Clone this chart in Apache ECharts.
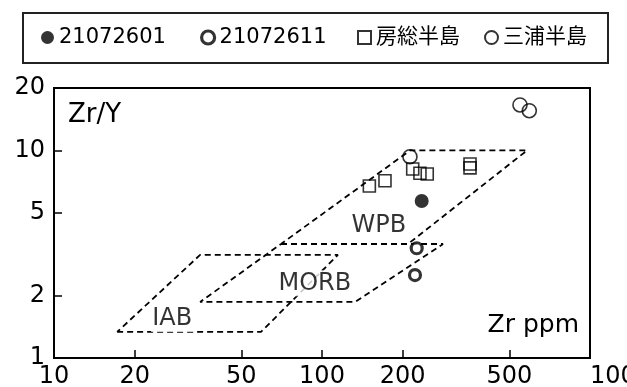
<!DOCTYPE html>
<html>
<head>
<meta charset="utf-8">
<script src="https://cdn.jsdelivr.net/npm/echarts@6/dist/echarts.min.js"></script>
<style>
html,body{margin:0;padding:0;background:#fff;}
#chart{width:627px;height:387px;}
</style>
</head>
<body>
<div id="chart"></div>
<script>
// Tick labels
const xTickValues = [10, 20, 50, 100, 200, 500, 1000];
const yTickValues = [1, 2, 5, 10, 20];

// Discrimination fields (Zr ppm, Zr/Y) - closed polygons
const iabZr    = [17.2, 59.2, 114.7, 35.1, 17.2];
const iabRatio = [1.335, 1.335, 3.14, 3.14, 1.335];
const morbZr    = [70.3, 282.8, 132.8, 35.1, 70.3];
const morbRatio = [3.543, 3.543, 1.862, 1.862, 3.543];
const wpbZr    = [70.3, 209.4, 582, 213, 70.3];
const wpbRatio = [3.543, 3.543, 10, 10, 3.543];

// Field labels
const fieldNames = ['WPB', 'MORB', 'IAB'];
const fieldZr    = [163, 94, 27.6];
const fieldRatio = [4.33, 2.29, 1.54];

// Samples
const s1Name = '21072601';
const s1Zr = [235.5];
const s1Ratio = [5.71];
const s2Name = '21072611';
const s2Zr = [225.6, 222.3];
const s2Ratio = [3.38, 2.51];
const bosoName = '房総半島';
const bosoZr = [150.2, 171.8, 218, 232, 247, 356.7, 356.7];
const bosoRatio = [6.74, 7.15, 8.14, 7.77, 7.70, 8.61, 8.24];
const miuraName = '三浦半島';
const miuraZr = [212.9, 548, 593.6];
const miuraRatio = [9.33, 16.57, 15.55];

const zip = (a, b) => a.map((v, i) => [v, b[i]]);
const FONT = 'DejaVu Sans, Noto Sans CJK JP, sans-serif';

const dashStyle = {color: '#000', width: 1.8, type: [6, 4]};
function fieldSeries(name, xs, ys) {
  return {
    name: name, type: 'line', data: zip(xs, ys), symbol: 'none',
    lineStyle: dashStyle, silent: true, z: 2, animation: false
  };
}
function legendAt(item, left) {
  return {
    data: [item], left: left, top: 27, padding: 0,
    itemWidth: 13, itemHeight: 13,
    textStyle: {fontFamily: FONT, fontSize: 21, color: '#000'},
    selectedMode: false
  };
}

const chart = echarts.init(document.getElementById('chart'), null, {renderer: 'canvas'});
chart.setOption({
  animation: false,
  backgroundColor: '#fff',
  grid: {left: 54, right: 37, top: 88, bottom: 29, containLabel: false, outerBoundsMode: 'none',
         show: true, borderColor: '#000', borderWidth: 2, backgroundColor: 'transparent'},
  legend: [
    legendAt({name: s1Name}, 41),
    legendAt({name: s2Name, itemStyle: {color: '#fff', borderColor: '#000', borderWidth: 3.2}}, 200),
    legendAt({name: bosoName}, 357),
    legendAt({name: miuraName}, 484)
  ],
  graphic: [
    {type: 'rect', shape: {x: 23, y: 13, width: 585, height: 50},
     style: {fill: null, stroke: '#222', lineWidth: 2}, silent: true},
    {type: 'text', x: 68, y: 115,
     style: {text: 'Zr/Y', fontFamily: FONT, fontSize: 26, fill: '#000', verticalAlign: 'middle', align: 'left'}},
    {type: 'text', x: 579, y: 325,
     style: {text: 'Zr ppm', fontFamily: FONT, fontSize: 25, fill: '#000', verticalAlign: 'middle', align: 'right'}}
  ],
  xAxis: {
    type: 'log', logBase: 10, min: 10, max: 1000,
    axisLine: {show: true, lineStyle: {color: '#000', width: 2}},
    axisTick: {show: true, inside: true, length: 8, lineStyle: {color: '#000', width: 1.5}, customValues: xTickValues.slice(1, -1)},
    axisLabel: {show: true, customValues: xTickValues, formatter: v => String(v), fontFamily: FONT, fontSize: 24, color: '#000', margin: 7, alignMaxLabel: 'left'},
    splitLine: {show: false}, minorTick: {show: false}
  },
  yAxis: {
    type: 'log', logBase: 10, min: 1, max: 20,
    axisLine: {show: true, lineStyle: {color: '#000', width: 2}},
    axisTick: {show: true, inside: true, length: 8, lineStyle: {color: '#000', width: 1.5}, customValues: yTickValues.slice(1, -1)},
    axisLabel: {show: true, customValues: yTickValues, formatter: v => String(v), fontFamily: FONT, fontSize: 24, color: '#000', margin: 9},
    splitLine: {show: false}, minorTick: {show: false}
  },
  series: [
    fieldSeries('IAB-field', iabZr, iabRatio),
    fieldSeries('MORB-field', morbZr, morbRatio),
    fieldSeries('WPB-field', wpbZr, wpbRatio),
    {
      name: 'fieldLabels', type: 'scatter', z: 5, silent: true,
      data: fieldNames.map((n, i) => ({name: n, value: [fieldZr[i], fieldRatio[i]]})),
      symbolSize: 1, itemStyle: {color: 'rgba(0,0,0,0)'},
      label: {show: true, position: 'inside', formatter: p => p.name, fontFamily: FONT, fontSize: 24,
              color: '#000', backgroundColor: '#fff', padding: [1, 1]}
    },
    {
      name: s1Name, type: 'scatter', z: 6, data: zip(s1Zr, s1Ratio),
      symbol: 'circle', symbolSize: 14,
      itemStyle: {color: '#000', borderColor: '#000', borderWidth: 0}
    },
    {
      name: s2Name, type: 'scatter', z: 6, data: zip(s2Zr, s2Ratio),
      symbol: 'circle', symbolSize: 11,
      itemStyle: {color: '#fff', borderColor: '#000', borderWidth: 3.2}
    },
    {
      name: bosoName, type: 'scatter', z: 6, data: zip(bosoZr, bosoRatio),
      symbol: 'rect', symbolSize: 12,
      itemStyle: {color: 'rgba(255,255,255,0)', borderColor: '#000', borderWidth: 1.6}
    },
    {
      name: miuraName, type: 'scatter', z: 6, data: zip(miuraZr, miuraRatio),
      symbol: 'circle', symbolSize: 14,
      itemStyle: {color: 'rgba(255,255,255,0)', borderColor: '#000', borderWidth: 1.6}
    }
  ]
});
</script>
</body>
</html>
